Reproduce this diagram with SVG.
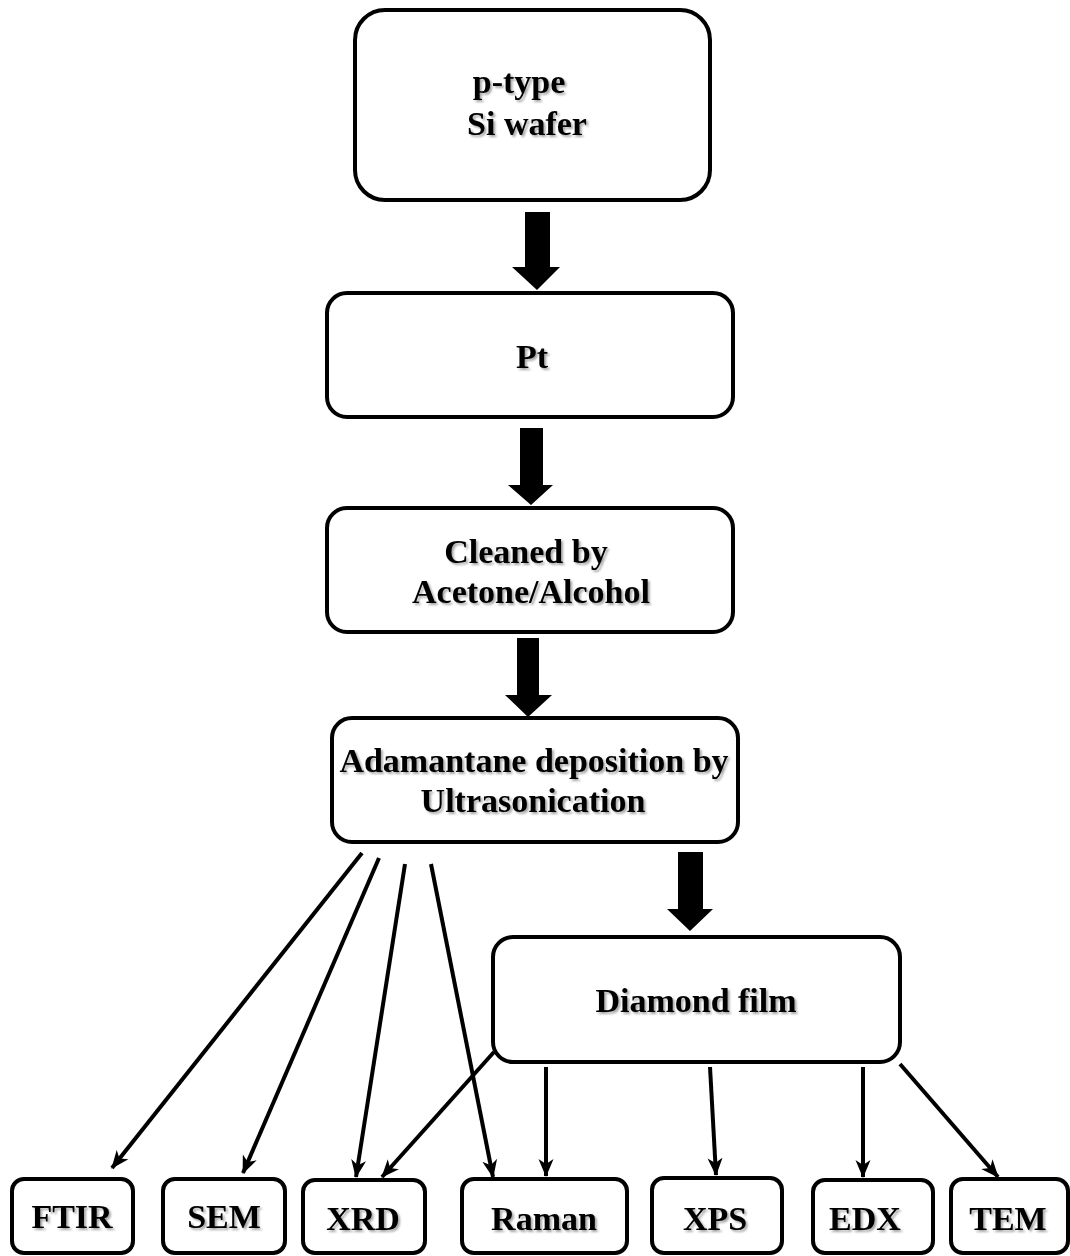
<svg xmlns="http://www.w3.org/2000/svg" width="1070" height="1256" viewBox="0 0 1070 1256">
  <style>
    .box { fill: #ffffff; stroke: #000000; stroke-width: 4; }
    .lbl { font-family: "Liberation Serif", "Times New Roman", serif; font-weight: bold; font-size: 34px; fill: #000000; text-anchor: middle; filter: url(#shadow); }
    .line { fill: none; stroke: #000000; stroke-width: 4; marker-end: url(#head); }
    .block { fill: #000000; }
  </style>
  <defs>
    <filter id="shadow" x="-10%" y="-30%" width="120%" height="160%">
      <feDropShadow dx="2" dy="2" stdDeviation="1" flood-color="#000000" flood-opacity="0.35"/>
    </filter>
    <marker id="head" markerUnits="userSpaceOnUse" markerWidth="18" markerHeight="18" viewBox="0 0 18 18" refX="17" refY="9" orient="auto">
      <path d="M0,1.5 L18,9 L0,16.5 L5,9 z" fill="#000000"/>
    </marker>
  </defs>
  <rect width="1070" height="1256" fill="#ffffff"/>

  <g id="connectors">
    <polygon class="block" points="525,212 550,212 550,267 560,267 537,290 512,267 525,267"/>
    <polygon class="block" points="520,428 543,428 543,485 553,485 531,505 508,485 520,485"/>
    <polygon class="block" points="517,638 539,638 539,695 552,695 528,717 505,695 517,695"/>
    <polygon class="block" points="678,852 703,852 703,909 713,909 690,931 667,909 678,909"/>
    <line class="line" x1="362" y1="853" x2="112" y2="1168"/>
    <line class="line" x1="379" y1="858" x2="243" y2="1173"/>
    <line class="line" x1="405" y1="864" x2="356" y2="1177"/>
    <line class="line" x1="431" y1="864" x2="493" y2="1177"/>
    <line class="line" x1="494" y1="1052" x2="382" y2="1177"/>
    <line class="line" x1="546" y1="1067" x2="546" y2="1176"/>
    <line class="line" x1="710" y1="1067" x2="716" y2="1175"/>
    <line class="line" x1="863" y1="1067" x2="863" y2="1177"/>
    <line class="line" x1="900" y1="1064" x2="998" y2="1177"/>
  </g>

  <g id="node-si-wafer">
    <rect class="box" x="355" y="10" width="355" height="190" rx="30"/>
    <text class="lbl" x="519" y="93">p-type</text>
    <text class="lbl" x="527" y="135">Si wafer</text>
  </g>
  <g id="node-pt">
    <rect class="box" x="327" y="293" width="406" height="124" rx="20"/>
    <text class="lbl" x="532" y="368">Pt</text>
  </g>
  <g id="node-cleaned">
    <rect class="box" x="327" y="508" width="406" height="124" rx="20"/>
    <text class="lbl" x="526" y="563">Cleaned by</text>
    <text class="lbl" x="531" y="603">Acetone/Alcohol</text>
  </g>
  <g id="node-adamantane">
    <rect class="box" x="332" y="718" width="406" height="124" rx="20"/>
    <text class="lbl" x="534" y="772">Adamantane deposition by</text>
    <text class="lbl" x="533" y="812">Ultrasonication</text>
  </g>
  <g id="node-diamond">
    <rect class="box" x="493" y="937" width="407" height="125" rx="20"/>
    <text class="lbl" x="696" y="1012">Diamond film</text>
  </g>
  <g id="node-ftir">
    <rect class="box" x="12" y="1179" width="121" height="74" rx="12"/>
    <text class="lbl" x="72" y="1228">FTIR</text>
  </g>
  <g id="node-sem">
    <rect class="box" x="163" y="1179" width="122" height="74" rx="12"/>
    <text class="lbl" x="224" y="1228">SEM</text>
  </g>
  <g id="node-xrd">
    <rect class="box" x="303" y="1180" width="122" height="73" rx="12"/>
    <text class="lbl" x="363" y="1230">XRD</text>
  </g>
  <g id="node-raman">
    <rect class="box" x="462" y="1179" width="165" height="74" rx="12"/>
    <text class="lbl" x="544" y="1230">Raman</text>
  </g>
  <g id="node-xps">
    <rect class="box" x="652" y="1178" width="130" height="75" rx="12"/>
    <text class="lbl" x="715" y="1230">XPS</text>
  </g>
  <g id="node-edx">
    <rect class="box" x="813" y="1180" width="120" height="73" rx="12"/>
    <text class="lbl" x="865" y="1230">EDX</text>
  </g>
  <g id="node-tem">
    <rect class="box" x="951" y="1179" width="117" height="74" rx="12"/>
    <text class="lbl" x="1008" y="1230">TEM</text>
  </g>
</svg>
